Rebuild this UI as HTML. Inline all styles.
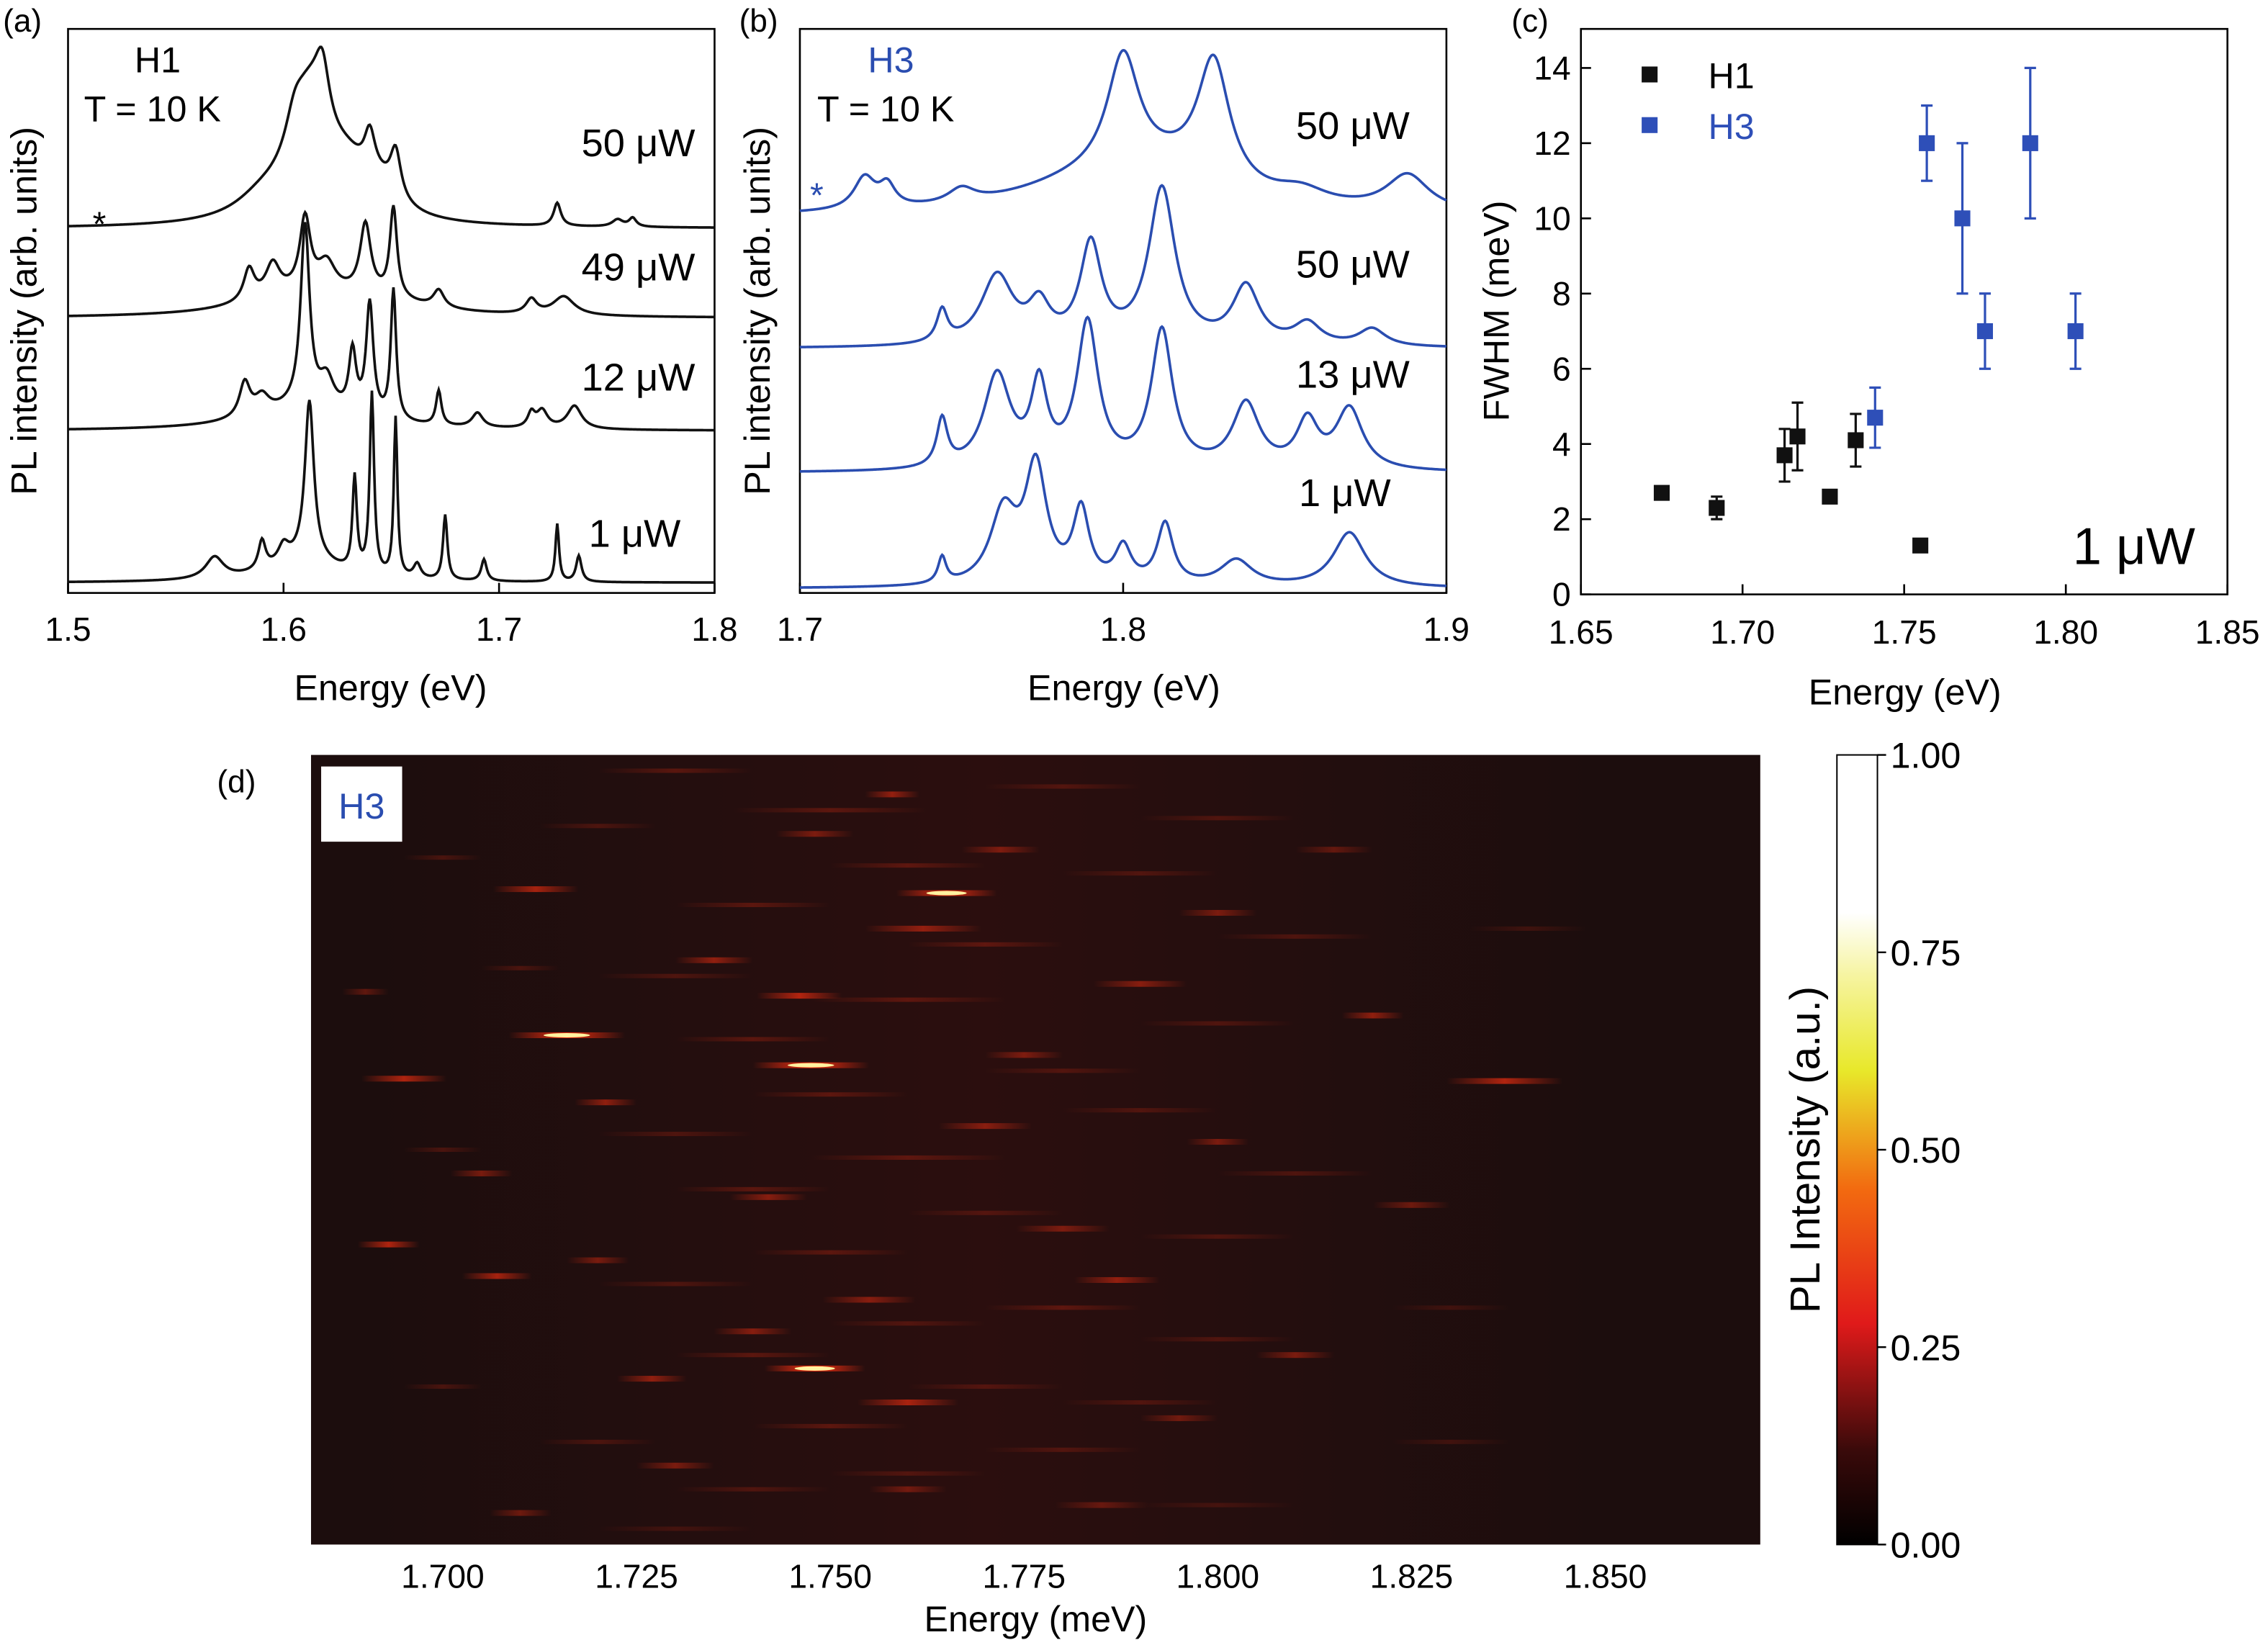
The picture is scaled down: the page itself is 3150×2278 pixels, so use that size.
<!DOCTYPE html>
<html><head><meta charset="utf-8">
<style>
html,body{margin:0;padding:0;background:#fff;}
svg{display:block;font-family:"Liberation Sans",Arial,sans-serif;}
</style></head>
<body>
<svg id="fig" width="3150" height="2278" viewBox="0 0 1568 1134" xmlns="http://www.w3.org/2000/svg">
<defs>
<linearGradient id="cbar" x1="0" y1="1" x2="0" y2="0">
<stop offset="0" stop-color="#000"/>
<stop offset="0.12" stop-color="#3a0a0a"/>
<stop offset="0.28" stop-color="#e01a1a"/>
<stop offset="0.45" stop-color="#f26a10"/>
<stop offset="0.6" stop-color="#e8e82a"/>
<stop offset="0.72" stop-color="#f6f4a0"/>
<stop offset="0.8" stop-color="#fff"/>
<stop offset="1" stop-color="#fff"/>
</linearGradient>
<linearGradient id="streak" x1="0" x2="1" y1="0" y2="0">
<stop offset="0" stop-color="#ff3010" stop-opacity="0"/>
<stop offset="0.5" stop-color="#ff3010" stop-opacity="1"/>
<stop offset="1" stop-color="#ff3010" stop-opacity="0"/>
</linearGradient>
<linearGradient id="glow" x1="0" x2="1" y1="0" y2="0">
<stop offset="0" stop-color="#3a1010" stop-opacity="0"/>
<stop offset="0.5" stop-color="#3a1010" stop-opacity="0.5"/>
<stop offset="1" stop-color="#3a1010" stop-opacity="0"/>
</linearGradient>
</defs>

<text x="2" y="22" font-size="22">(a)</text>
<text x="511" y="22" font-size="22">(b)</text>
<text x="1045" y="22" font-size="22">(c)</text>
<text x="150" y="548" font-size="22">(d)</text>

<g id="pa"></g>
<g id="pb"></g>
<g id="pc"></g>
<g id="pd"></g>
</svg>
<script>
// ---------- data ----------
const aLabels = ["50 \u03BCW","49 \u03BCW","12 \u03BCW","1 \u03BCW"];
const aBase = [158, 220, 298, 403];
const aPeaks = [
 [[1.612,80,0.012],[1.618,40,0.004],[1.605,20,0.005],[1.63,25,0.012],[1.64,28,0.003],[1.652,32,0.003],[1.645,15,0.01],[1.727,16,0.002],[1.755,5,0.003],[1.762,6,0.002],[1.59,12,0.015]],
 [[1.584,22,0.003],[1.595,22,0.004],[1.61,50,0.003],[1.62,20,0.005],[1.638,48,0.003],[1.651,62,0.002],[1.672,12,0.003],[1.715,10,0.003],[1.73,13,0.006],[1.605,12,0.03],[1.64,10,0.03]],
 [[1.582,24,0.003],[1.59,12,0.004],[1.61,125,0.0025],[1.62,20,0.004],[1.632,42,0.002],[1.64,78,0.002],[1.651,90,0.0015],[1.672,24,0.0015],[1.69,10,0.003],[1.715,10,0.002],[1.72,12,0.003],[1.735,16,0.004],[1.61,15,0.03]],
 [[1.568,15,0.005],[1.59,20,0.002],[1.6,12,0.003],[1.612,110,0.0025],[1.633,65,0.0012],[1.641,125,0.0012],[1.652,110,0.001],[1.662,10,0.002],[1.675,45,0.0012],[1.693,15,0.0015],[1.727,40,0.001],[1.737,18,0.0015],[1.61,15,0.02]]
];
const bLabels = ["50 \u03BCW","50 \u03BCW","13 \u03BCW","1 \u03BCW"];
const bBase = [150, 241, 327, 407];
const bPeaks = [
 [[1.72,22,0.004],[1.727,15,0.003],[1.75,10,0.005],[1.80,80,0.006],[1.828,85,0.006],[1.815,20,0.02],[1.79,20,0.03],[1.855,10,0.01],[1.888,25,0.008]],
 [[1.744,22,0.002],[1.761,48,0.006],[1.774,25,0.004],[1.79,68,0.004],[1.812,108,0.005],[1.838,40,0.005],[1.857,15,0.005],[1.877,12,0.005]],
 [[1.744,33,0.002],[1.761,65,0.005],[1.774,55,0.003],[1.789,100,0.004],[1.812,95,0.004],[1.838,45,0.005],[1.857,32,0.004],[1.87,42,0.005]],
 [[1.744,18,0.0015],[1.763,50,0.005],[1.773,80,0.004],[1.787,50,0.003],[1.80,25,0.003],[1.813,42,0.003],[1.835,18,0.006],[1.87,38,0.006]]
];
const h1E = [1.675,1.692,1.713,1.717,1.727,1.735,1.755];
const h1F = [2.7,2.3,3.7,4.2,2.6,4.1,1.3];
const h1Err = [0,0.3,0.7,0.9,0,0.7,0];
const h3E = [1.741,1.757,1.768,1.775,1.789,1.803];
const h3F = [4.7,12,10,7,12,7];
const h3Err = [0.8,1,2,1,2,1];
const cXTicks = [1.65,1.70,1.75,1.80,1.85];
const cYTicks = [0,2,4,6,8,10,12,14];
const dStreaks = [
 [1.765,0.175,0.85,0.013],[1.716,0.355,0.9,0.015],[1.7475,0.393,0.95,0.015],[1.695,0.41,0.65,0.011],
 [1.837,0.413,0.65,0.015],[1.748,0.777,1.0,0.013],[1.693,0.62,0.65,0.008],[1.707,0.66,0.6,0.009],
 [1.760,0.82,0.6,0.013],[1.712,0.17,0.6,0.011],[1.820,0.33,0.5,0.008],[1.746,0.305,0.65,0.011],
 [1.762,0.22,0.5,0.015],[1.721,0.44,0.5,0.008],[1.787,0.665,0.5,0.011],[1.81,0.76,0.4,0.01],
 [1.727,0.79,0.5,0.009],[1.758,0.05,0.5,0.007],[1.79,0.29,0.45,0.012],[1.80,0.49,0.4,0.008],
 [1.735,0.26,0.5,0.01],[1.772,0.12,0.4,0.01],[1.742,0.56,0.45,0.01],[1.78,0.6,0.4,0.012],
 [1.705,0.53,0.4,0.008],[1.755,0.69,0.45,0.012],[1.795,0.84,0.35,0.01],[1.73,0.9,0.4,0.01],
 [1.77,0.47,0.45,0.012],[1.748,0.1,0.4,0.01],[1.775,0.38,0.4,0.01],[1.72,0.64,0.4,0.008],
 [1.80,0.2,0.4,0.01],[1.825,0.57,0.35,0.01],[1.74,0.73,0.45,0.01],[1.785,0.95,0.3,0.012],
 [1.71,0.96,0.35,0.008],[1.76,0.93,0.35,0.01],[1.69,0.3,0.3,0.006],[1.815,0.12,0.3,0.01]
];
// faint background streaks [energy, row fraction, intensity, length]
const dFaint = [
 [1.73,0.02,0.25,0.02],[1.78,0.04,0.2,0.02],[1.75,0.07,0.25,0.025],[1.8,0.08,0.2,0.02],[1.72,0.09,0.2,0.015],
 [1.76,0.14,0.25,0.02],[1.79,0.15,0.2,0.02],[1.74,0.19,0.25,0.02],[1.81,0.23,0.2,0.02],[1.77,0.24,0.25,0.02],
 [1.73,0.28,0.2,0.02],[1.76,0.31,0.25,0.025],[1.80,0.34,0.2,0.02],[1.74,0.36,0.25,0.02],[1.78,0.40,0.2,0.02],
 [1.75,0.43,0.25,0.02],[1.79,0.45,0.2,0.02],[1.73,0.48,0.2,0.02],[1.76,0.51,0.25,0.025],[1.81,0.53,0.2,0.02],
 [1.74,0.55,0.25,0.02],[1.77,0.58,0.2,0.02],[1.80,0.61,0.2,0.02],[1.75,0.63,0.25,0.02],[1.73,0.67,0.2,0.02],
 [1.78,0.70,0.25,0.02],[1.76,0.72,0.2,0.02],[1.80,0.74,0.2,0.02],[1.74,0.76,0.25,0.02],[1.77,0.80,0.2,0.02],
 [1.79,0.82,0.2,0.02],[1.75,0.85,0.25,0.02],[1.72,0.87,0.2,0.015],[1.78,0.88,0.2,0.02],[1.76,0.91,0.2,0.02],
 [1.74,0.93,0.2,0.02],[1.80,0.95,0.15,0.02],[1.73,0.98,0.15,0.02],[1.70,0.5,0.2,0.01],[1.83,0.7,0.15,0.015],
 [1.70,0.13,0.2,0.01],[1.84,0.22,0.15,0.015],[1.70,0.8,0.2,0.01],[1.83,0.87,0.15,0.015],[1.71,0.27,0.2,0.01]
];
const dXTicks = [1.700,1.725,1.750,1.775,1.800,1.825,1.850];
const cbTicks = [0,0.25,0.5,0.75,1.0];

const NS="http://www.w3.org/2000/svg";
function el(parent,tag,attrs,text){const e=document.createElementNS(NS,tag);for(const k in attrs)e.setAttribute(k,attrs[k]);if(text!==undefined)e.textContent=text;parent.appendChild(e);return e;}

function spectrumPanel(g, x0,x1, y0,y1, eMin,eMax, ticks, bases, peaks, labels, color, labelX, prefix){
  const sx=e=>x0+(e-eMin)/(eMax-eMin)*(x1-x0);
  const frame=el(g,'rect',{x:x0,y:y0,width:x1-x0,height:y1-y0,fill:'none',stroke:'#000','stroke-width':1.3});
  
  
  ticks.forEach(t=>{
    const tl=el(g,'line',{x1:sx(t),x2:sx(t),y1:y1,y2:y1-7,stroke:'#000','stroke-width':1.3});
    
    
    const tx=el(g,'text',{x:sx(t),y:y1+33,'font-size':23,'text-anchor':'middle'},t.toFixed(1));
    
    
  });
  const N=600;
  peaks.forEach((pk,i)=>{
    let d='';
    for(let k=0;k<=N;k++){
      const e=eMin+(eMax-eMin)*k/N;
      let y=bases[i];
      pk.forEach(p=>{const dx=e-p[0];y-=p[1]*p[2]*p[2]/(dx*dx+p[2]*p[2]);});
      d+=(k?'L':'M')+sx(e).toFixed(2)+' '+y.toFixed(2);
    }
    const path=el(g,'path',{d:d,fill:'none',stroke:color,'stroke-width':1.8});
    
    
  });
}

const pa=document.getElementById('pa');
spectrumPanel(pa,47,494,20,410,1.5,1.8,[1.5,1.6,1.7,1.8],aBase,aPeaks,aLabels,'#111','','panel-a');
[[402,108],[402,194],[402,270],[407,378]].forEach((p,i)=>{
  const t=el(pa,'text',{x:p[0],y:p[1],'font-size':27},aLabels[i]);
  
  
});
let t=el(pa,'text',{x:93,y:50,'font-size':25},'H1');
t=el(pa,'text',{x:58,y:84,'font-size':25},'T = 10 K');
t=el(pa,'text',{x:64,y:163,'font-size':24},'*');
t=el(pa,'text',{x:270,y:484,'font-size':25,'text-anchor':'middle'},'Energy (eV)');
t=el(pa,'text',{x:0,y:0,'font-size':25,'text-anchor':'middle',transform:'translate(25,215) rotate(-90)'},'PL intensity (arb. units)');

const pb=document.getElementById('pb');
spectrumPanel(pb,553,1000,20,410,1.7,1.9,[1.7,1.8,1.9],bBase,bPeaks,bLabels,'#2a4db0','','panel-b');
[[896,96],[896,192],[896,268],[898,350]].forEach((p,i)=>{
  const tt=el(pb,'text',{x:p[0],y:p[1],'font-size':27},bLabels[i]);
  
  
});
t=el(pb,'text',{x:600,y:50,'font-size':25,fill:'#2a4db0'},'H3');
t=el(pb,'text',{x:565,y:84,'font-size':25},'T = 10 K');
t=el(pb,'text',{x:560,y:143,'font-size':24,fill:'#2a4db0'},'*');
t=el(pb,'text',{x:777,y:484,'font-size':25,'text-anchor':'middle'},'Energy (eV)');
t=el(pb,'text',{x:0,y:0,'font-size':25,'text-anchor':'middle',transform:'translate(532,215) rotate(-90)'},'PL intensity (arb. units)');

const pc=document.getElementById('pc');
const cx0=1093,cx1=1540,cy0=20,cy1=411;
const cX=e=>cx0+(e-1.65)/(0.2)*(cx1-cx0);
const cY=v=>cy1-v*26;
t=el(pc,'rect',{x:cx0,y:cy0,width:cx1-cx0,height:cy1-cy0,fill:'none',stroke:'#000','stroke-width':1.3});
cXTicks.forEach(v=>{
  const l=el(pc,'line',{x1:cX(v),x2:cX(v),y1:cy1,y2:cy1-7,stroke:'#000','stroke-width':1.3});
  
  const tx=el(pc,'text',{x:cX(v),y:cy1+34,'font-size':23,'text-anchor':'middle'},v.toFixed(2));
  
});
cYTicks.forEach(v=>{
  const l=el(pc,'line',{x1:cx0,x2:cx0+7,y1:cY(v),y2:cY(v),stroke:'#000','stroke-width':1.3});
  
  const tx=el(pc,'text',{x:cx0-7,y:cY(v)+8,'font-size':23,'text-anchor':'end'},String(v));
  
});
function scatter(E,F,Er,color,name){
  E.forEach((e,i)=>{
    const x=cX(e),y=cY(F[i]);
    if(Er[i]>0){
      const b=el(pc,'path',{d:`M${x} ${cY(F[i]-Er[i])}V${cY(F[i]+Er[i])}M${x-4} ${cY(F[i]-Er[i])}h8M${x-4} ${cY(F[i]+Er[i])}h8`,stroke:color,'stroke-width':1.6,fill:'none'});
      
    }
    const r=el(pc,'rect',{x:x-5.5,y:y-5.5,width:11,height:11,fill:color});
    
  });
}
scatter(h1E,h1F,h1Err,'#111','h1');
scatter(h3E,h3F,h3Err,'#2e4fb8','h3');
t=el(pc,'rect',{x:1135,y:46,width:11,height:11,fill:'#111'});
t=el(pc,'text',{x:1181,y:61,'font-size':25},'H1');
t=el(pc,'rect',{x:1135,y:81,width:11,height:11,fill:'#2e4fb8'});
t=el(pc,'text',{x:1181,y:96,'font-size':25,fill:'#2e4fb8'},'H3');
t=el(pc,'text',{x:1433,y:390,'font-size':36},'1 \u03BCW');
t=el(pc,'text',{x:1317,y:487,'font-size':25,'text-anchor':'middle'},'Energy (eV)');
t=el(pc,'text',{x:0,y:0,'font-size':25,'text-anchor':'middle',transform:'translate(1043,215) rotate(-90)'},'FWHM (meV)');

const pd=document.getElementById('pd');
const dx0=215,dx1=1217,dy0=522,dy1=1068;
const dX=e=>dx0+(e-1.683)/(1.870-1.683)*(dx1-dx0);
t=el(pd,'rect',{x:dx0,y:dy0,width:dx1-dx0,height:dy1-dy0,fill:'#1c0d0d'});
t=el(pd,'rect',{x:dX(1.69),y:dy0,width:dX(1.85)-dX(1.69),height:dy1-dy0,fill:'url(#glow)'});
dFaint.forEach(s=>{
  const cxp=dX(s[0]),w=dX(s[0]+s[3])-dX(s[0]);
  const y=dy0+s[1]*(dy1-dy0);
  const r=el(pd,'rect',{x:cxp-w/2,y:y-1.5,width:w,height:3,fill:'url(#streak)',opacity:s[2]});
  
});
dStreaks.forEach(s=>{
  const cxp=dX(s[0]),w=dX(s[0]+s[3])-dX(s[0]);
  const y=dy0+s[1]*(dy1-dy0);
  const r=el(pd,'rect',{x:cxp-w/2,y:y-2,width:w,height:4,fill:'url(#streak)',opacity:s[2]});
  
  if(s[2]>0.8){
    const c=el(pd,'ellipse',{cx:cxp,cy:y,rx:w*0.2,ry:1.5,fill:'#fff2a0'});
    
  }
});
dXTicks.forEach(v=>{
  const tx=el(pd,'text',{x:dX(v),y:dy1+30,'font-size':23,'text-anchor':'middle'},v.toFixed(3));
  
});
t=el(pd,'rect',{x:222,y:530,width:56,height:52,fill:'#fff'});
t=el(pd,'text',{x:250,y:566,'font-size':25,fill:'#2a4db0','text-anchor':'middle'},'H3');
t=el(pd,'text',{x:716,y:1128,'font-size':25,'text-anchor':'middle'},'Energy (meV)');
const cbY=v=>dy1-v*(dy1-dy0);
t=el(pd,'rect',{x:1270,y:dy0,width:28,height:dy1-dy0,fill:'url(#cbar)',stroke:'#000','stroke-width':1});
cbTicks.forEach(v=>{
  const l=el(pd,'line',{x1:1298,x2:1304,y1:cbY(v),y2:cbY(v),stroke:'#000','stroke-width':1.2});
  
  const tx=el(pd,'text',{x:1307,y:cbY(v)+9,'font-size':25},v.toFixed(2));
  
});
t=el(pd,'text',{x:0,y:0,'font-size':29,'text-anchor':'middle',transform:'translate(1258,795) rotate(-90)'},'PL Intensity (a.u.)');
</script>
</body></html>
